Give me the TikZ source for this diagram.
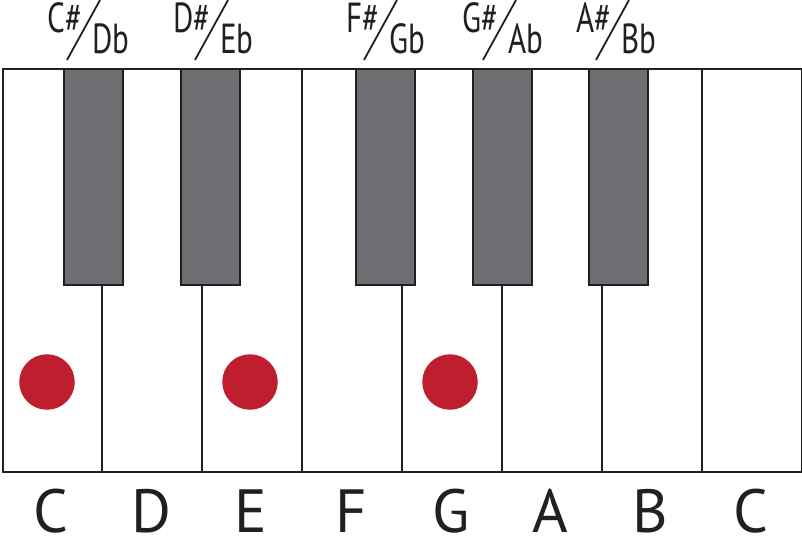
\documentclass[tikz,border=0pt]{standalone}
\usepackage{fontspec}
\setmainfont{PT Sans}
\definecolor{keygray}{HTML}{6D6E71}
\definecolor{dotred}{HTML}{BE1E2D}
\definecolor{ink}{HTML}{231F20}
\begin{document}
\begin{tikzpicture}[x=1pt,y=-1pt,
  whitekey/.style={draw=ink,line width=2pt,fill=white},
  blackkey/.style={draw=ink,line width=2pt,fill=keygray},
  notedot/.style={circle,fill=dotred,minimum size=55.5pt,inner sep=0pt},
  notename/.style={anchor=base,inner sep=0pt,text=ink,font=\fontsize{61}{61}\selectfont},
  accname/.style={inner sep=0pt,text=ink,font=\fontsize{42}{42}\selectfont},
  slashline/.style={draw=ink,line width=1.8pt}]
\useasboundingbox (0,0) rectangle (802,536);
% white keys
\foreach \i/\n in {0/C,1/D,2/E,3/F,4/G,5/A,6/B,7/Ch}{
  \node[whitekey,rectangle,inner sep=0pt,anchor=north west,minimum width=99.875pt,minimum height=403.5pt] (w\n) at ({1.5+99.875*\i},67.5) {};
}
% black keys
\foreach \x/\n in {63/Cs,180/Ds,355/Fs,472/Gs,588/As}{
  \node[blackkey,rectangle,inner sep=0pt,anchor=north west,minimum width=59pt,minimum height=216pt] (b\n) at (\x,67.5) {};
}
% dots
\node[notedot] (dC) at (47,382) {};
\node[notedot] (dE) at (250,382) {};
\node[notedot] (dG) at (450,382) {};
% note names
\foreach \i/\n/\t in {0/C/C,1/D/D,2/E/E,3/F/F,4/G/G,5/A/A,6/B/B,7/Ch/C}{
  \node[notename] (l\n) at ({51.4+99.875*\i},532) {\t};
}
% accidental labels
\foreach \x/\s/\f/\n in {67/C/D/C,195/D/E/D,364/F/G/F,483/G/A/G,596/A/B/A}{
  \coordinate (sb\n) at (\x,60);
  \coordinate (st\n) at ({\x+33},0);
  \draw[slashline] (sb\n) -- (st\n);
  \node[accname,anchor=base east] (sh\n) at ({\x+15.5},32) {\scalebox{0.74}[1]{\s\#}};
  \node[accname,anchor=base west] (fl\n) at ({\x+25},53) {\scalebox{0.74}[1]{\f b}};
}
\end{tikzpicture}
\end{document}
